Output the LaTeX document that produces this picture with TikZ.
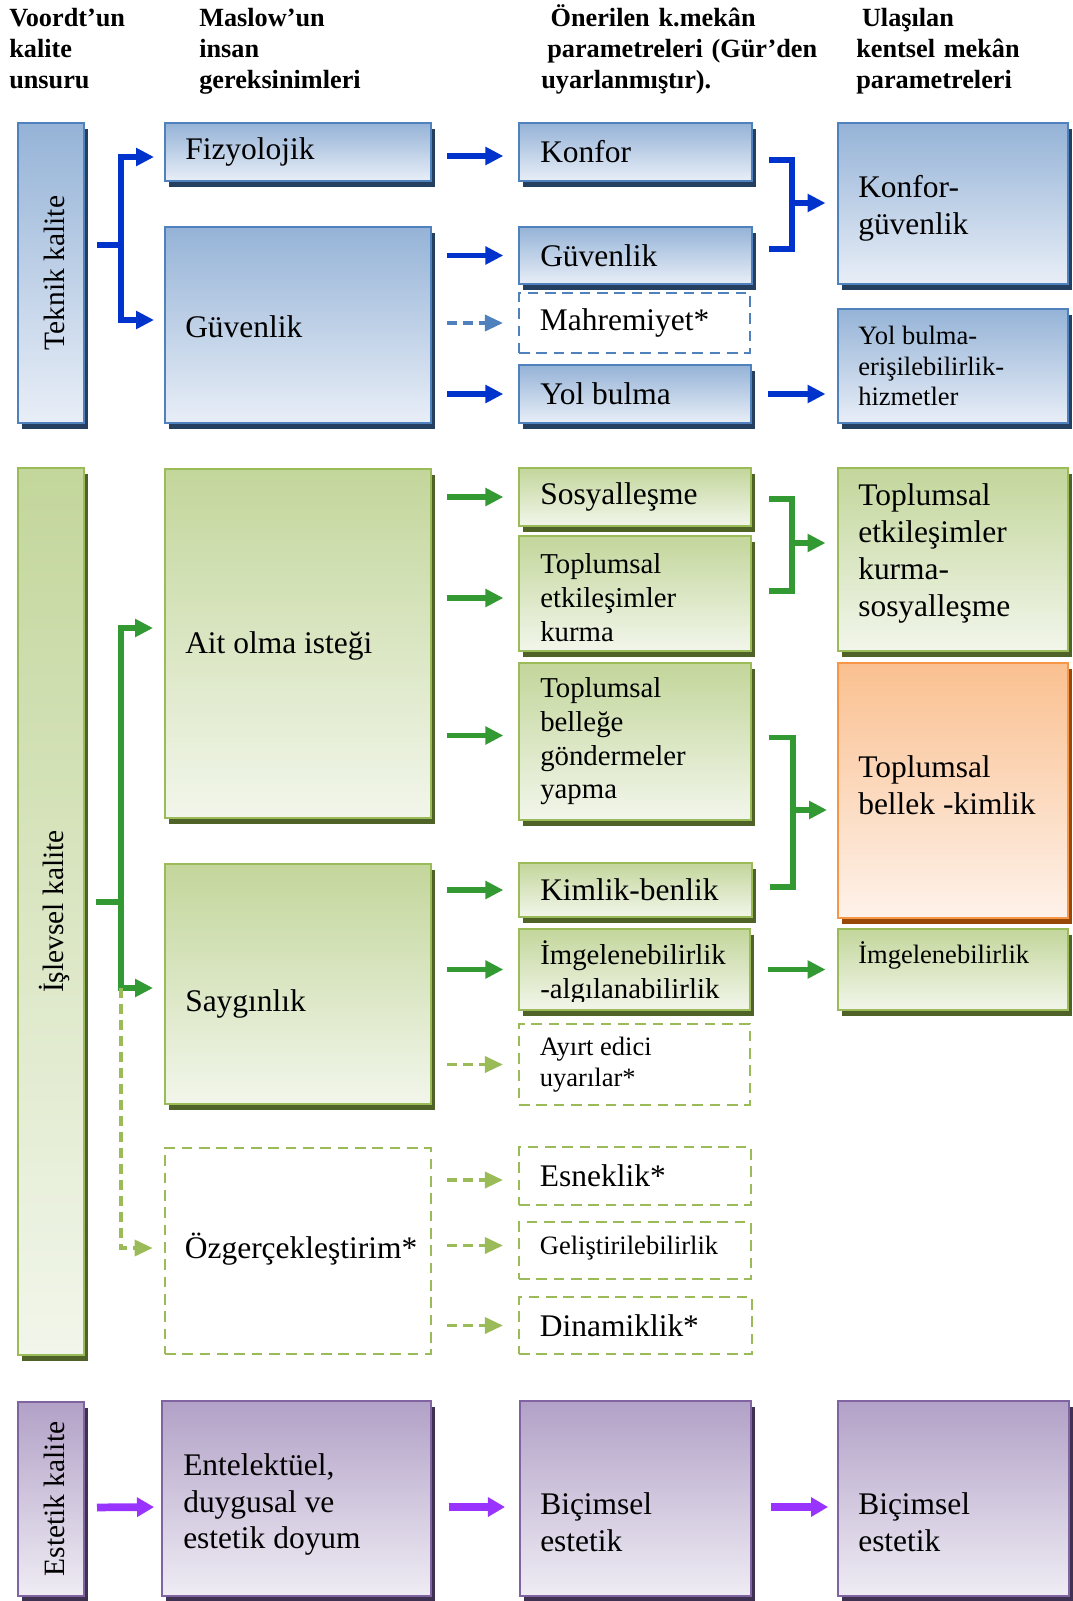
\documentclass[tikz,border=0pt]{standalone}
\usepackage{fontspec}
\setmainfont{Liberation Serif}
\usetikzlibrary{arrows.meta,calc,fit,shadows}

\definecolor{blueTop}{HTML}{95B3D7}
\definecolor{blueBot}{HTML}{E8EEF7}
\definecolor{blueEdge}{HTML}{4F81BD}
\definecolor{blueShade}{HTML}{243F60}
\definecolor{blueArrow}{HTML}{0033CC}
\definecolor{greenTop}{HTML}{C3D69B}
\definecolor{greenBot}{HTML}{F2F6EB}
\definecolor{greenEdge}{HTML}{9BBB59}
\definecolor{greenShade}{HTML}{4F6228}
\definecolor{greenArrow}{HTML}{339933}
\definecolor{orangeTop}{HTML}{FAC090}
\definecolor{orangeBot}{HTML}{FEF2EA}
\definecolor{orangeEdge}{HTML}{F79646}
\definecolor{orangeShade}{HTML}{984807}
\definecolor{purpleTop}{HTML}{B2A1C7}
\definecolor{purpleBot}{HTML}{EFECF4}
\definecolor{purpleEdge}{HTML}{8064A2}
\definecolor{purpleShade}{HTML}{3F3151}
\definecolor{purpleArrow}{HTML}{9933FF}

\tikzset{
  box/.style={inner sep=0pt, line width=1.5pt},
  bluebox/.style={box, draw=blueEdge, top color=blueTop, bottom color=blueBot,
    drop shadow={shadow xshift=3pt, shadow yshift=-4.5pt, fill=blueShade, opacity=1}},
  greenbox/.style={box, draw=greenEdge, top color=greenTop, bottom color=greenBot,
    drop shadow={shadow xshift=3pt, shadow yshift=-4.5pt, fill=greenShade, opacity=1}},
  orangebox/.style={box, draw=orangeEdge, top color=orangeTop, bottom color=orangeBot,
    drop shadow={shadow xshift=3pt, shadow yshift=-4.5pt, fill=orangeShade, opacity=1}},
  purplebox/.style={box, draw=purpleEdge, top color=purpleTop, bottom color=purpleBot,
    drop shadow={shadow xshift=3pt, shadow yshift=-4.5pt, fill=purpleShade, opacity=1}},
  dashbox/.style={inner sep=0pt, line width=2.1pt, dash pattern=on 8pt off 5pt},
  bluedash/.style={dashbox, draw=blueEdge},
  greendash/.style={dashbox, draw=greenEdge},
  conn/.style={line width=4.3pt, line join=miter},
  bline/.style={conn, draw=blueArrow},
  gline/.style={conn, draw=greenArrow},
  barrow/.style={bline, -{Triangle[length=13.5pt,width=13pt]}, shorten <=11.25pt, shorten >=11pt},
  garrow/.style={gline, -{Triangle[length=13.5pt,width=13pt]}, shorten <=11.25pt, shorten >=11pt},
  bdarrow/.style={draw=blueEdge, line width=2.6pt, dash pattern=on 7.5pt off 4.5pt,
    -{Triangle[length=13.5pt,width=12pt]}, shorten <=11.25pt, shorten >=11pt},
  gdarrow/.style={draw=greenEdge, line width=2.6pt, dash pattern=on 7.5pt off 4.5pt,
    -{Triangle[length=13.5pt,width=12pt]}, shorten <=11.25pt, shorten >=11pt},
  parrow/.style={draw=purpleArrow, line width=5.8pt, -{Triangle[length=12.8pt,width=14pt]}},
  txt/.style={inner sep=0pt, anchor=west, align=left},
  bigtxt/.style={font=\fontsize{23.6pt}{27.6pt}\selectfont},
  midtxt/.style={font=\fontsize{21.6pt}{25.3pt}\selectfont},
  smalltxt/.style={font=\fontsize{19.9pt}{23pt}\selectfont},
  rtxt/.style={inner sep=0pt, rotate=90, font=\fontsize{22.1pt}{26pt}\selectfont},
  headtxt/.style={inner sep=0pt, anchor=base west, text width=300pt, align=left,
    font=\fontsize{19.7pt}{23.1pt}\selectfont\bfseries},
}

\begin{document}
\begin{tikzpicture}[x=0.75pt, y=-0.75pt]
  \useasboundingbox[fill=white] (0,0) rectangle (1072,1601);

  % column headings
  \node[headtxt] (h1) at (9,27) {Voordt’un\\kalite\\unsuru};
  \node[headtxt] (h2) at (199,27) {Maslow’un\\insan\\gereksinimleri};
  \node[headtxt] (h3) at (541,27) {\hspace*{7pt}Önerilen k.mekân\\\hspace*{4.5pt}parametreleri (Gür’den\\uyarlanmıştır).};
  \node[headtxt] (h4) at (856,27) {\hspace*{4.3pt}Ulaşılan\\kentsel mekân\\parametreleri};

  % teknik kalite
  \node[bluebox, fit={(18,123) (84,423)}] (teknik) {};
  \node[bluebox, fit={(165,123) (431,181)}] (fiz) {};
  \node[bluebox, fit={(165,227) (431,423)}] (guvL) {};
  \node[bluebox, fit={(519,123) (752,181)}] (konfor) {};
  \node[bluebox, fit={(519,227) (752,284)}] (guvM) {};
  \node[bluedash, fit={(519,293) (750,353)}] (mahrem) {};
  \node[bluebox, fit={(519,365) (751,423)}] (yolb) {};
  \node[bluebox, fit={(838,123) (1068,284)}] (kg) {};
  \node[bluebox, fit={(838,309) (1068,423)}] (yolR) {};

  \node[rtxt] (teknik-t) at ($(teknik.center)+(3,0)$) {Teknik kalite};
  \node[txt, bigtxt] (fiz-t) at ($(fiz.west)+(21,0)$) {Fizyolojik};
  \node[txt, bigtxt] (guvL-t) at ($(guvL.west)+(21,2)$) {Güvenlik};
  \node[txt, bigtxt] (konfor-t) at ($(konfor.west)+(22,0)$) {Konfor};
  \node[txt, bigtxt] (guvM-t) at ($(guvM.west)+(22,0)$) {Güvenlik};
  \node[txt, bigtxt] (mahrem-t) at ($(mahrem.west)+(22,0)$) {Mahremiyet*};
  \node[txt, bigtxt] (yolb-t) at ($(yolb.west)+(22,0)$) {Yol bulma};
  \node[txt, bigtxt] (kg-t) at ($(kg.west)+(21,5)$) {Konfor-\\güvenlik};
  \node[txt, smalltxt] (yolR-t) at ($(yolR.west)+(21,0)$) {Yol bulma-\\erişilebilirlik-\\hizmetler};

  % islevsel kalite
  \node[greenbox, fit={(18,468) (84,1355)}] (islevsel) {};
  \node[greenbox, fit={(165,469) (431,818)}] (ait) {};
  \node[greenbox, fit={(165,864) (431,1104)}] (sayg) {};
  \node[greendash, fit={(165,1148) (431,1354)}] (ozger) {};
  \node[greenbox, fit={(519,468) (751,526)}] (sos) {};
  \node[greenbox, fit={(519,536) (751,651)}] (tek) {};
  \node[greenbox, fit={(519,663) (751,820)}] (bel) {};
  \node[greenbox, fit={(519,863) (752,917)}] (kim) {};
  \node[greenbox, fit={(519,929) (750,1010)}] (img) {};
  \node[greendash, fit={(519,1024) (750,1105)}] (ayirt) {};
  \node[greendash, fit={(519,1147) (751,1205)}] (esn) {};
  \node[greendash, fit={(519,1222) (751,1279)}] (gel) {};
  \node[greendash, fit={(519,1297) (752,1354)}] (din) {};
  \node[greenbox, fit={(838,468) (1068,651)}] (tks) {};
  \node[orangebox, fit={(838,663) (1068,918)}] (tbk) {};
  \node[greenbox, fit={(838,929) (1068,1010)}] (imgR) {};

  \node[rtxt] (islevsel-t) at ($(islevsel.center)+(3,0)$) {İşlevsel kalite};
  \node[txt, bigtxt] (ait-t) at ($(ait.west)+(21,2)$) {Ait olma isteği};
  \node[txt, bigtxt] (sayg-t) at ($(sayg.west)+(21,20)$) {Saygınlık};
  \node[txt, bigtxt] (ozger-t) at ($(ozger.west)+(21,-2)$) {Özgerçekleştirim*};
  \node[txt, bigtxt] (sos-t) at ($(sos.west)+(22,0)$) {Sosyalleşme};
  \node[txt, midtxt] (tek-t) at ($(tek.west)+(22,4)$) {Toplumsal\\etkileşimler\\kurma};
  \node[txt, midtxt] (bel-t) at ($(bel.west)+(22,0)$) {Toplumsal\\belleğe\\göndermeler\\yapma};
  \node[txt, bigtxt] (kim-t) at ($(kim.west)+(22,0)$) {Kimlik-benlik};
  \begin{scope}
    \clip (img.north west) rectangle ($(img.south east)+(0,-10)$);
    \node[txt, midtxt] (img-t) at ($(img.west)+(22,3)$) {İmgelenebilirlik\\-algılanabilirlik};
  \end{scope}
  \node[txt, smalltxt] (ayirt-t) at ($(ayirt.west)+(22,0)$) {Ayırt edici\\uyarılar*};
  \node[txt, bigtxt] (esn-t) at ($(esn.west)+(22,0)$) {Esneklik*};
  \node[txt, smalltxt] (gel-t) at ($(gel.west)+(22,-2)$) {Geliştirilebilirlik};
  \node[txt, bigtxt] (din-t) at ($(din.west)+(22,0)$) {Dinamiklik*};
  \node[txt, bigtxt] (tks-t) at ($(tks.west)+(21,-6)$) {Toplumsal\\etkileşimler\\kurma-\\sosyalleşme};
  \node[txt, bigtxt] (tbk-t) at ($(tbk.west)+(21,-5)$) {Toplumsal\\bellek -kimlik};
  \node[txt, smalltxt] (imgR-t) at ($(imgR.west)+(21,-14)$) {İmgelenebilirlik};

  % estetik kalite
  \node[purplebox, fit={(18,1402) (84,1596)}] (estetik) {};
  \node[purplebox, fit={(162,1401) (431,1596)}] (ent) {};
  \node[purplebox, fit={(520,1401) (751,1596)}] (bicM) {};
  \node[purplebox, fit={(838,1401) (1069,1596)}] (bicR) {};

  \node[rtxt] (estetik-t) at ($(estetik.center)+(3,0)$) {Estetik kalite};
  \node[txt, bigtxt] (ent-t) at ($(ent.west)+(22,6)$) {Entelektüel,\\duygusal ve\\estetik doyum};
  \node[txt, bigtxt] (bicM-t) at ($(bicM.west)+(21,24)$) {Biçimsel\\estetik};
  \node[txt, bigtxt] (bicR-t) at ($(bicR.west)+(21,24)$) {Biçimsel\\estetik};

  % blue connectors
  \coordinate (jt) at (121,245);
  \draw[bline] ($(teknik.east |- jt)+(12,0)$) -- (jt);
  \draw[barrow, shorten <=0pt, shorten >=7.5pt] (jt) |- ($(fiz.west)+(0,5)$);
  \draw[barrow, shorten <=0pt, shorten >=7.5pt] (jt) |- ($(guvL.west)+(0,-5)$);
  \draw[barrow] ($(fiz.east)+(0,4)$) -- ($(konfor.west)+(0,4)$);
  \draw[barrow] (guvL.east |- guvM.west) -- (guvM.west);
  \draw[bdarrow] (guvL.east |- mahrem.west) -- (mahrem.west);
  \draw[barrow] (guvL.east |- yolb.west) -- (yolb.west);
  \coordinate (jb) at (792,203);
  \draw[bline] ($(konfor.east)+(16,8)$) -| (jb) |- ($(guvM.east)+(16,-6.5)$);
  \draw[barrow, shorten <=0pt, shorten >=8.6pt] (jb) -- (jb -| kg.west);
  \draw[barrow, shorten <=12pt, shorten >=8.6pt] (yolb.east) -- (yolb.east -| yolR.west);

  % green connectors
  \coordinate (ji) at (121,902);
  \draw[gline] ($(islevsel.east |- ji)+(11,0)$) -- (ji);
  \draw[garrow, shorten <=0pt, shorten >=8.25pt] (ji) |- ($(ait.west)+(0,-15.5)$);
  \draw[garrow, shorten <=0pt, shorten >=8.25pt] (ji) |- ($(sayg.west)+(0,4)$);
  \draw[gdarrow, shorten <=0pt, shorten >=8.25pt] ($(sayg.west -| ji)+(0,4)$) |- ($(ozger.west)+(0,-3)$);
  \draw[garrow] (ait.east |- sos.west) -- (sos.west);
  \draw[garrow] ($(ait.east |- tek.west)+(0,4.5)$) -- ($(tek.west)+(0,4.5)$);
  \draw[garrow] ($(ait.east |- bel.west)+(0,-6)$) -- ($(bel.west)+(0,-6)$);
  \draw[garrow] (sayg.east |- kim.west) -- (kim.west);
  \draw[garrow] (sayg.east |- img.west) -- (img.west);
  \draw[gdarrow] (sayg.east |- ayirt.west) -- (ayirt.west);
  \draw[gdarrow] ($(ozger.east |- esn.west)+(0,4)$) -- ($(esn.west)+(0,4)$);
  \draw[gdarrow] ($(ozger.east |- gel.west)+(0,-5)$) -- ($(gel.west)+(0,-5)$);
  \draw[gdarrow] (ozger.east |- din.west) -- (din.west);
  \coordinate (jg1) at (792,543);
  \draw[gline] ($(sos.east)+(17,2)$) -| (jg1) |- ($(tek.east)+(17,-2.5)$);
  \draw[garrow, shorten <=0pt, shorten >=8.6pt] (jg1) -- (jg1 -| tks.west);
  \coordinate (jg2) at (793,810);
  \draw[gline] ($(bel.east)+(17,-4)$) -| (jg2) |- ($(kim.east)+(17,-3)$);
  \draw[garrow, shorten <=0pt, shorten >=7.5pt] (jg2) -- (jg2 -| tbk.west);
  \draw[garrow, shorten <=13pt, shorten >=8.6pt] (img.east) -- (img.east -| imgR.west);

  % purple connectors
  \draw[parrow, shorten <=9pt, shorten >=5.2pt] ($(estetik.east)+(0,8.5)$) -- ($(ent.west)+(0,8.5)$);
  \draw[parrow, shorten <=12.6pt, shorten >=10.5pt] ($(ent.east)+(0,8.5)$) -- ($(bicM.west)+(0,8.5)$);
  \draw[parrow, shorten <=14.6pt, shorten >=6.7pt] ($(bicM.east)+(0,8.5)$) -- ($(bicR.west)+(0,8.5)$);
\end{tikzpicture}
\end{document}
